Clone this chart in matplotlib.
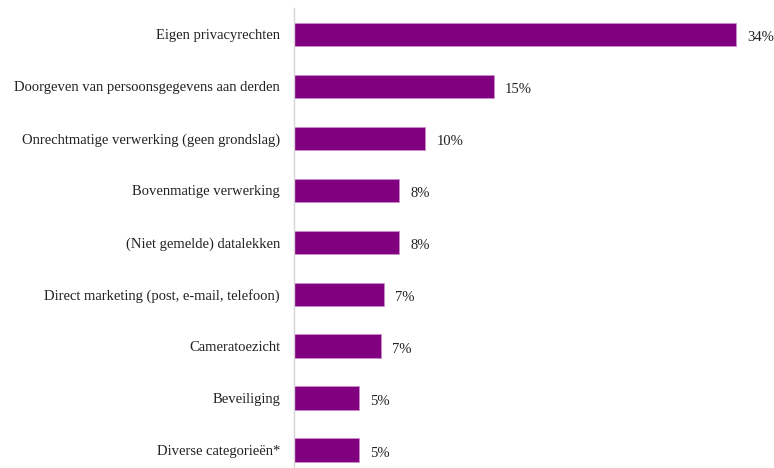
import matplotlib
matplotlib.use("Agg")
import matplotlib.pyplot as plt

categories = [
    "Eigen privacyrechten",
    "Doorgeven van persoonsgegevens aan derden",
    "Onrechtmatige verwerking (geen grondslag)",
    "Bovenmatige verwerking",
    "(Niet gemelde) datalekken",
    "Direct marketing (post, e-mail, telefoon)",
    "Cameratoezicht",
    "Beveiliging",
    "Diverse categorieën*",
]
values = [34.0, 15.4, 10.1, 8.1, 8.1, 6.95, 6.7, 5.0, 5.0]
value_labels = ["34%", "15%", "10%", "8%", "8%", "7%", "7%", "5%", "5%"]

W, H = 774, 468
fig = plt.figure(figsize=(W / 100, H / 100), dpi=100)

left_px, right_px = 294, 760
top_px, bottom_px = 8.5, 468
ax = fig.add_axes([left_px / W, 1 - bottom_px / H, (right_px - left_px) / W, (bottom_px - top_px) / H])

xmax = 34.0 * (right_px - left_px) / (736 - 294)
ax.set_xlim(0, xmax)
ax.set_ylim(8 + 18 / 52, -0.5)

ypos = list(range(len(categories)))
ax.barh(ypos, values, height=0.45, color="#800080", edgecolor="#c98bc9", linewidth=0.6)

for y, v, lab in zip(ypos, values, value_labels):
    ax.annotate(lab, xy=(v, y), xytext=(11, -3), textcoords="offset pixels",
                va="center", ha="left", fontsize=10.5, family="Liberation Serif", color="#222222")

ax.set_yticks(ypos)
ax.set_yticklabels(categories, fontsize=10.5, family="Liberation Serif", color="#222222")
ax.tick_params(axis="y", length=0, pad=10)
ax.set_xticks([])
for s in ["top", "right", "bottom"]:
    ax.spines[s].set_visible(False)
ax.spines["left"].set_color("#d4d4d4")
ax.spines["left"].set_linewidth(1.0)

fig.savefig("out.png", dpi=100)
